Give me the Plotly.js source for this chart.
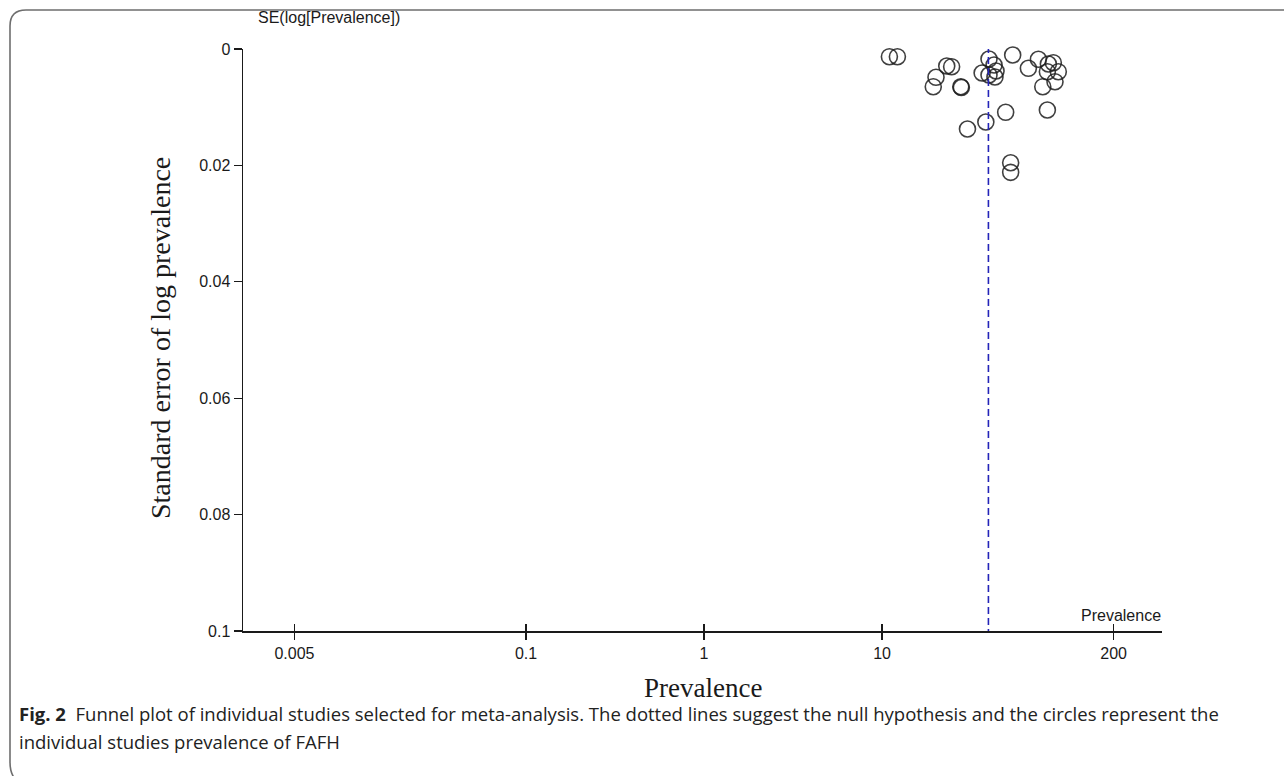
<!DOCTYPE html>
<html>
<head>
<meta charset="utf-8">
<script src="https://cdn.plot.ly/plotly-3.0.1.min.js"></script>
<style>
html,body{margin:0;padding:0;background:#fff;}
#chart{width:1284px;height:776px;}
</style>
</head>
<body>
<div id="chart"></div>
<script>
// Study prevalence (x, log scale) and standard error of log prevalence (y)
var prevalence = [11.0, 12.2, 23.1, 24.6, 20.1, 19.4, 27.7, 27.9,
  39.9, 42.6, 36.5, 39.9, 43.7, 43.1,
  54.2, 66.4, 75.6, 86.0, 91.7, 97.8, 84.9, 93.7, 80.0,
  49.5, 84.9, 38.3, 30.2, 52.8, 52.8];
var seLogPrev = [0.00132, 0.00132, 0.00292, 0.00304, 0.00486, 0.00648, 0.00648, 0.00661,
  0.00172, 0.00275, 0.00412, 0.00447, 0.00378, 0.00481,
  0.00103, 0.00332, 0.00177, 0.00258, 0.00235, 0.0039, 0.0039, 0.00562, 0.00648,
  0.01088, 0.01048, 0.01254, 0.01375, 0.01954, 0.02119];
var pooled = 39.6;           // null-hypothesis line
var xTicks = [0.005, 0.1, 1, 10, 200];
var xTickText = ['0.005', '0.1', '1', '10', '200'];
var yTicks = [0, 0.02, 0.04, 0.06, 0.08, 0.1];
var yTickText = ['0', '0.02', '0.04', '0.06', '0.08', '0.1'];

var W = 1284, H = 776;
var L = 243, R = 122, T = 49, B = 145;
var pw = W - L - R, ph = H - T - B;
function px(x){ return (x - L) / pw; }
function py(y){ return (H - B - y) / ph; }

var sans = 'Liberation Sans, Arial, sans-serif';
var serif = 'Liberation Serif, Times New Roman, serif';
var capFont = 'Open Sans, sans-serif';
var xr = [Math.log10(0.00257), Math.log10(374)];

var traces = [
  {
    type: 'scatter', mode: 'markers', x: prevalence, y: seLogPrev,
    xaxis: 'x', yaxis: 'y', cliponaxis: false,
    marker: {symbol: 'circle-open', size: 16, color: 'rgba(30,30,30,0.85)', line: {width: 1.6}},
    hoverinfo: 'x+y', showlegend: false
  },
  {
    type: 'scatter', mode: 'lines', x: [pooled, pooled], y: [-0.0005, 0.1],
    xaxis: 'x2', yaxis: 'y', cliponaxis: false,
    line: {color: '#2424b8', width: 1.6, dash: '7px,4px'},
    hoverinfo: 'skip', showlegend: false
  }
];

function borderPath(){
  return 'M ' + px(1290) + ' ' + py(10) +
    ' L ' + px(26) + ' ' + py(10) +
    ' Q ' + px(10) + ' ' + py(10) + ' ' + px(10) + ' ' + py(26) +
    ' L ' + px(10) + ' ' + py(762) +
    ' Q ' + px(10) + ' ' + py(774) + ' ' + px(16) + ' ' + py(780);
}

var layout = {
  width: W, height: H,
  margin: {l: L, r: R, t: T, b: B, pad: 0},
  paper_bgcolor: '#fff', plot_bgcolor: '#fff',
  showlegend: false,
  xaxis: {
    type: 'log', range: xr, showgrid: false, zeroline: false,
    showline: true, linecolor: '#1a1a1a', linewidth: 1.5,
    ticks: 'outside', ticklen: 7, tickwidth: 1.3, tickcolor: '#1a1a1a',
    tickmode: 'array', tickvals: xTicks, ticktext: xTickText,
    tickfont: {family: sans, size: 16, color: '#1a1a1a'}
  },
  xaxis2: {
    type: 'log', range: xr, overlaying: 'x', anchor: 'y', side: 'bottom',
    showgrid: false, zeroline: false, showline: false,
    ticks: 'inside', ticklen: 7, tickwidth: 1.3, tickcolor: '#1a1a1a',
    tickmode: 'array', tickvals: xTicks, showticklabels: false
  },
  yaxis: {
    range: [0.1, 0], showgrid: false, zeroline: false,
    showline: true, linecolor: '#1a1a1a', linewidth: 1.5,
    ticks: 'outside', ticklen: 8, tickwidth: 1.3, tickcolor: '#1a1a1a',
    tickmode: 'array', tickvals: yTicks, ticktext: yTickText,
    tickfont: {family: sans, size: 16, color: '#1a1a1a'}
  },
  shapes: [
    {type: 'path', xref: 'paper', yref: 'paper', path: borderPath(),
     line: {color: '#6e6e6e', width: 1.6}, fillcolor: 'rgba(0,0,0,0)'}
  ],
  annotations: [
    {xref: 'paper', yref: 'paper', x: px(256), y: py(18), xanchor: 'left', yanchor: 'middle',
     text: 'SE(log[Prevalence])', showarrow: false, font: {family: sans, size: 16, color: '#1a1a1a'}},
    {xref: 'paper', yref: 'paper', x: px(1163), y: py(626), xanchor: 'right', yanchor: 'bottom',
     text: 'Prevalence', showarrow: false, font: {family: sans, size: 16, color: '#1a1a1a'}},
    {xref: 'paper', yref: 'paper', x: px(160), y: py(338), xanchor: 'center', yanchor: 'middle',
     textangle: -90, text: 'Standard error of log prevalence', showarrow: false,
     font: {family: serif, size: 28, color: '#1a1a1a'}},
    {xref: 'paper', yref: 'paper', x: px(703), y: py(688), xanchor: 'center', yanchor: 'middle',
     text: 'Prevalence', showarrow: false, font: {family: serif, size: 27, color: '#1a1a1a'}},
    {xref: 'paper', yref: 'paper', x: px(17), y: py(713), xanchor: 'left', yanchor: 'middle',
     text: '<b>Fig. 2</b>&nbsp;&nbsp;Funnel plot of individual studies selected for meta-analysis. The dotted lines suggest the null hypothesis and the circles represent the',
     showarrow: false, font: {family: capFont, size: 18.5, color: '#222'}},
    {xref: 'paper', yref: 'paper', x: px(17), y: py(741), xanchor: 'left', yanchor: 'middle',
     text: 'individual studies prevalence of FAFH',
     showarrow: false, font: {family: capFont, size: 18.5, color: '#222'}}
  ]
};

Plotly.newPlot('chart', traces, layout, {displayModeBar: false, staticPlot: true});
</script>
</body>
</html>
